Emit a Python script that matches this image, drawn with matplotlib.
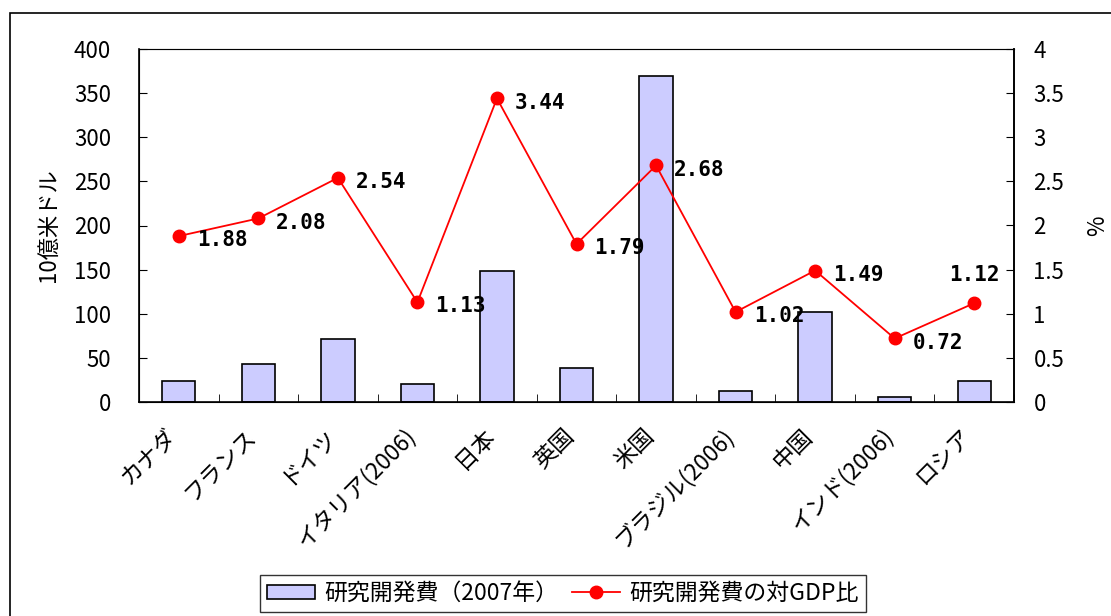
import numpy as np
import matplotlib
matplotlib.use("Agg")
import matplotlib.pyplot as plt
import matplotlib.transforms as mtransforms
from matplotlib.patches import Rectangle

plt.rcParams['font.family'] = ['Noto Sans CJK JP', 'DejaVu Sans']

# ---- data ----
countries = ["カナダ", "フランス", "ドイツ", "イタリア(2006)", "日本", "英国",
             "米国", "ブラジル(2006)", "中国", "インド(2006)", "ロシア"]
rd_spend = [23.8, 43.2, 71.4, 20.0, 148.0, 38.6, 369.0, 12.5, 102.0, 5.7, 23.5]  # 10億米ドル
rd_gdp = [1.88, 2.08, 2.54, 1.13, 3.44, 1.79, 2.68, 1.02, 1.49, 0.72, 1.12]  # %

W, H = 1111, 616
fig = plt.figure(figsize=(W / 100, H / 100), dpi=100)

# outer frame of the chart area
fig.patches.append(Rectangle((10 / W, -0.1), 1.2, 1 - 13 / H + 0.1, transform=fig.transFigure,
                             fill=False, edgecolor="black", linewidth=1.2))

ax = fig.add_axes([139 / W, 1 - 402 / H, 875 / W, 353 / H])
x = np.arange(len(countries))

ax.bar(x, rd_spend, width=0.42, color="#CCCCFF", edgecolor="black", linewidth=1.2,
       label="研究開発費（2007年）", zorder=2)
ax.set_xlim(-0.5, len(countries) - 0.5)
ax.set_ylim(0, 400)
ax.set_yticks(np.arange(0, 401, 50))
ax.tick_params(axis="y", direction="in", length=6, labelsize=16, pad=20)
ax.set_ylabel("10億米ドル", fontsize=16, labelpad=10)

ax.set_xticks(x)
ax.set_xticklabels(countries, rotation=45, ha="right", rotation_mode="anchor", fontsize=16.5)
ax.tick_params(axis="x", which="major", length=0, pad=16)
shift = mtransforms.ScaledTranslation(-14 / 100, 0, fig.dpi_scale_trans)
for lbl in ax.get_xticklabels():
    lbl.set_transform(lbl.get_transform() + shift)
ax.set_xticks(np.arange(-0.5, len(countries), 1), minor=True)
ax.tick_params(axis="x", which="minor", direction="in", length=6)

for side in ["left", "bottom", "right"]:
    ax.spines[side].set_color("black")
    ax.spines[side].set_linewidth(1.2)
ax.spines["top"].set_color("#888888")

ax2 = ax.twinx()
ax2.plot(x, rd_gdp, color="red", linewidth=1.3, marker="o", markersize=9,
         label="研究開発費の対GDP比", zorder=3)
ax2.set_ylim(0, 4)
ticks2 = np.arange(0, 4.01, 0.5)
ax2.set_yticks(ticks2)
ax2.set_yticklabels([f"{t:g}" for t in ticks2])
ax2.tick_params(axis="y", direction="in", length=6, labelsize=16, pad=14)
ax2.set_ylabel("%", fontsize=16, labelpad=16)
ax2.spines["right"].set_linewidth(1.2)

for i, v in enumerate(rd_gdp):
    if i == len(rd_gdp) - 1:
        ax2.annotate(f"{v:.2f}", (i, v), xytext=(0, 13), textcoords="offset points",
                     ha="center", va="bottom", fontsize=15, fontweight="bold",
                     family="DejaVu Sans Mono")
    else:
        ax2.annotate(f"{v:.2f}", (i, v), xytext=(13, -3), textcoords="offset points",
                     ha="left", va="center", fontsize=15, fontweight="bold",
                     family="DejaVu Sans Mono")

h1, l1 = ax.get_legend_handles_labels()
h2, l2 = ax2.get_legend_handles_labels()
leg = fig.legend(h1 + h2, l1 + l2, loc="lower center", bbox_to_anchor=(563 / W, 2 / H),
                 ncol=2, fontsize=16.5, frameon=True, fancybox=False, edgecolor="black",
                 handlelength=2.1, handleheight=0.55, borderpad=0.3, columnspacing=0.6,
                 handletextpad=0.4, borderaxespad=0.1)
leg.get_frame().set_linewidth(1.0)

fig.savefig("out.png", dpi=100)
